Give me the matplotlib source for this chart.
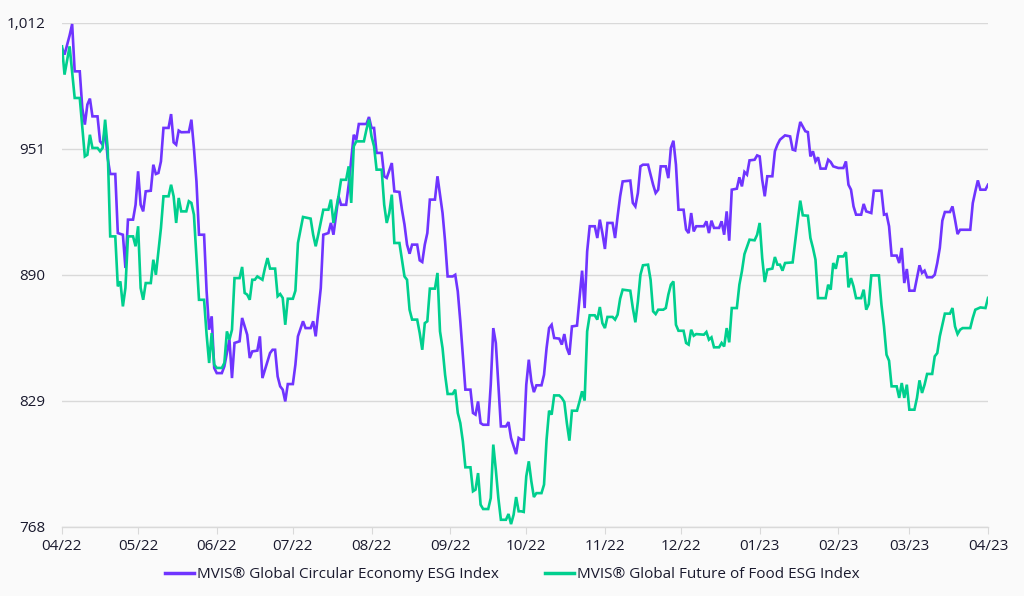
import matplotlib
matplotlib.use("Agg")
import matplotlib.pyplot as plt
import matplotlib.dates as mdates
import matplotlib.ticker as mticker
import pandas as pd

plt.rcParams['font.family'] = ['Open Sans', 'DejaVu Sans']

start_date = "2022-04-01"
series_names = ["MVIS® Global Circular Economy ESG Index",
                "MVIS® Global Future of Food ESG Index"]
y_ticks = [768, 829, 890, 951, 1012]

circ_days = [0, 1, 3, 4, 5, 7, 8, 9, 10, 11, 12, 14, 15, 16, 17, 18, 19, 21, 22, 24,
             25, 26, 28, 29, 30, 31, 32, 33, 35, 36, 37, 38, 39, 40, 42, 43, 44, 45, 46, 47,
             50, 51, 52, 53, 54, 56, 57, 58, 59, 60, 61, 63, 64, 66, 67, 68, 70, 71, 73, 74,
             75, 77, 78, 79, 81, 82, 83, 84, 85, 86, 87, 88, 89, 91, 92, 93, 95, 96, 98, 99,
             100, 102, 103, 105, 106, 107, 109, 110, 112, 113, 115, 116, 117, 120, 121, 122, 123, 124, 126, 127,
             128, 130, 131, 133, 134, 135, 136, 137, 138, 140, 141, 142, 143, 144, 145, 147, 148, 150, 151, 152,
             154, 155, 156, 157, 159, 161, 162, 163, 164, 165, 166, 168, 169, 170, 171, 172, 173, 175, 176, 177,
             179, 180, 181, 182, 183, 184, 185, 186, 187, 189, 190, 191, 192, 193, 194, 196, 197, 198, 199, 200,
             201, 203, 204, 205, 206, 207, 208, 210, 211, 212, 213, 214, 215, 217, 218, 219, 220, 221, 224, 225,
             226, 227, 228, 229, 231, 232, 233, 234, 235, 236, 238, 239, 240, 241, 242, 243, 245, 246, 247, 248,
             249, 250, 253, 254, 255, 256, 257, 259, 260, 261, 262, 263, 264, 266, 267, 268, 269, 270, 271, 273,
             274, 275, 276, 277, 278, 280, 281, 282, 283, 285, 287, 288, 289, 290, 291, 293, 294, 295, 296, 297,
             298, 299, 301, 302, 303, 304, 306, 308, 309, 310, 311, 312, 313, 315, 316, 317, 319, 320, 323, 324,
             325, 326, 327, 329, 330, 331, 332, 333, 334, 336, 337, 338, 339, 340, 341, 343, 344, 345, 346, 347,
             348, 350, 351, 352, 353, 354, 358, 359, 360, 361, 362, 364, 365]
circ_vals = [999.9, 996.7, 1006.0, 1011.5, 988.6, 988.6, 970.8, 962.8, 972.5, 975.4, 966.8, 966.8, 954.7, 953.1, 960.4, 946.6, 938.9, 938.9, 910.3, 909.5,
             893.4, 916.8, 916.8, 924.0, 940.2, 924.0, 920.8, 930.5, 930.8, 943.4, 938.9, 939.4, 945.0, 961.2, 961.2, 967.9, 954.2, 953.1, 959.9, 959.1,
             959.2, 965.2, 951.5, 935.3, 909.5, 909.5, 882.1, 863.5, 870.0, 845.0, 842.5, 842.5, 845.8, 858.7, 840.1, 857.1, 857.9, 869.2, 861.1, 849.8,
             853.0, 853.4, 860.3, 840.1, 848.2, 852.2, 853.8, 853.8, 840.9, 836.1, 834.5, 828.8, 837.2, 837.2, 846.6, 860.3, 867.6, 864.3, 864.3, 867.6,
             860.3, 883.7, 909.5, 910.3, 915.2, 909.5, 928.1, 924.0, 924.0, 933.7, 957.9, 955.5, 963.1, 963.1, 966.5, 961.2, 961.2, 949.1, 949.1, 937.8,
             937.0, 944.2, 930.5, 930.2, 921.6, 914.4, 904.7, 900.3, 904.7, 904.7, 897.1, 896.3, 904.7, 910.3, 926.5, 926.5, 937.8, 920.0, 906.3, 889.3,
             889.3, 890.1, 882.1, 867.6, 834.5, 834.5, 823.2, 822.4, 828.8, 818.3, 817.5, 817.5, 836.9, 864.3, 857.1, 836.9, 816.7, 816.7, 818.8, 811.1,
             803.3, 811.1, 810.3, 810.3, 836.9, 849.0, 838.5, 833.3, 836.6, 836.6, 841.7, 854.6, 864.3, 865.9, 859.5, 859.2, 856.3, 861.4, 854.6, 851.4,
             865.1, 865.5, 878.9, 892.1, 874.0, 901.4, 913.6, 913.6, 907.9, 916.8, 910.3, 902.6, 915.2, 915.2, 907.9, 918.4, 928.1, 935.3, 935.7, 924.9,
             923.2, 929.7, 942.6, 943.4, 943.4, 938.6, 933.7, 929.7, 931.3, 942.6, 942.6, 936.9, 951.5, 955.0, 943.4, 921.6, 921.6, 912.0, 910.3, 920.0,
             911.1, 913.6, 913.6, 916.0, 910.3, 916.3, 912.8, 912.8, 916.0, 909.5, 920.8, 906.6, 931.3, 931.8, 937.3, 932.9, 939.9, 938.6, 945.5, 945.8,
             947.9, 947.4, 936.1, 928.1, 937.8, 937.8, 949.9, 953.1, 955.5, 957.6, 957.1, 950.7, 950.3, 957.9, 964.1, 959.6, 959.2, 947.4, 949.9, 945.0,
             947.0, 941.5, 941.5, 945.8, 944.7, 942.6, 941.8, 941.8, 945.0, 933.7, 931.3, 923.2, 919.2, 919.2, 924.4, 920.8, 920.0, 930.8, 930.8, 919.2,
             919.5, 913.6, 899.4, 899.4, 895.8, 903.1, 886.1, 892.9, 882.4, 882.4, 888.5, 894.7, 891.0, 892.1, 888.9, 888.9, 890.1, 895.8, 903.1, 916.3,
             920.5, 920.5, 923.2, 916.8, 909.8, 911.9, 911.9, 924.8, 930.5, 935.8, 931.3, 931.3, 933.7]

food_days = [0, 1, 3, 5, 7, 9, 10, 11, 12, 14, 15, 16, 17, 18, 19, 21, 22, 23, 24, 25,
             26, 28, 29, 30, 31, 32, 33, 35, 36, 37, 39, 40, 42, 43, 44, 45, 46, 47, 49, 50,
             51, 52, 54, 56, 57, 58, 59, 60, 61, 63, 64, 65, 66, 67, 68, 70, 71, 72, 73, 74,
             75, 76, 77, 79, 80, 81, 82, 84, 85, 86, 87, 88, 89, 91, 92, 93, 95, 98, 99, 100,
             101, 103, 105, 106, 107, 109, 110, 112, 113, 114, 115, 116, 119, 120, 121, 122, 123, 124, 126, 127,
             128, 129, 130, 131, 133, 134, 135, 136, 137, 138, 140, 141, 142, 143, 144, 145, 147, 148, 149, 150,
             151, 152, 154, 155, 156, 157, 158, 159, 161, 162, 163, 164, 165, 166, 168, 169, 170, 171, 172, 173,
             175, 176, 177, 178, 179, 180, 181, 182, 183, 184, 185, 186, 187, 189, 190, 191, 192, 193, 194, 196,
             197, 198, 199, 200, 201, 203, 204, 205, 206, 207, 208, 210, 211, 212, 213, 214, 215, 217, 218, 219,
             220, 221, 224, 225, 226, 227, 228, 229, 231, 232, 233, 234, 235, 237, 238, 239, 240, 241, 242, 243,
             245, 246, 247, 248, 249, 250, 253, 254, 255, 256, 257, 259, 260, 261, 262, 263, 264, 266, 267, 268,
             269, 271, 273, 274, 275, 276, 277, 278, 280, 281, 282, 283, 284, 285, 288, 289, 290, 291, 292, 294,
             295, 296, 297, 298, 301, 302, 303, 304, 305, 306, 308, 309, 310, 311, 312, 313, 315, 316, 317, 318,
             319, 322, 323, 324, 325, 326, 327, 329, 330, 331, 332, 333, 334, 336, 337, 338, 339, 340, 341, 343,
             344, 345, 346, 347, 348, 350, 351, 352, 353, 354, 355, 358, 359, 360, 362, 364, 365]
food_vals = [1000.7, 987.0, 1000.7, 975.7, 975.7, 947.4, 948.2, 957.9, 951.5, 951.5, 949.9, 951.5, 965.2, 951.5, 908.7, 908.7, 884.5, 886.9, 874.8, 883.7,
             908.7, 908.7, 903.9, 913.6, 883.7, 878.0, 886.1, 886.1, 897.4, 890.1, 912.7, 928.1, 928.1, 933.7, 928.1, 915.2, 927.3, 920.8, 920.8, 925.7,
             924.9, 919.2, 878.0, 878.0, 861.1, 847.4, 861.9, 846.6, 845.0, 845.0, 847.4, 862.7, 858.7, 863.5, 888.5, 888.5, 893.9, 881.3, 880.5, 878.0,
             887.7, 887.7, 889.3, 887.7, 893.4, 898.2, 893.1, 893.1, 879.7, 880.8, 878.9, 865.9, 878.5, 878.5, 882.4, 905.5, 918.1, 917.3, 909.5, 903.9,
             909.5, 921.6, 921.6, 926.5, 915.2, 928.1, 936.1, 936.1, 942.6, 924.9, 952.3, 954.7, 954.7, 960.4, 965.2, 957.1, 952.3, 941.0, 941.0, 924.0,
             915.2, 920.0, 928.9, 905.5, 905.5, 897.4, 889.3, 887.7, 873.2, 868.4, 868.4, 861.9, 853.8, 866.7, 867.6, 883.4, 883.4, 891.0, 862.7, 854.6,
             841.7, 832.4, 832.4, 834.5, 823.2, 818.3, 809.5, 796.9, 796.9, 785.3, 786.1, 794.1, 778.8, 776.7, 776.7, 782.0, 807.9, 795.7, 782.0, 771.5,
             771.5, 774.3, 769.4, 773.9, 782.5, 775.6, 775.6, 775.3, 792.5, 799.8, 790.1, 782.5, 784.4, 784.4, 788.5, 810.3, 824.3, 822.4, 831.7, 831.7,
             830.5, 828.5, 818.3, 809.8, 824.3, 824.3, 828.8, 833.7, 829.2, 862.7, 870.5, 870.5, 868.4, 874.5, 866.7, 864.3, 869.7, 869.7, 868.4, 870.8,
             878.5, 882.9, 882.4, 874.0, 867.1, 877.2, 890.1, 894.7, 895.0, 887.7, 872.4, 871.1, 873.2, 873.2, 874.0, 880.5, 885.3, 886.9, 865.9, 863.0,
             863.0, 857.1, 856.3, 863.5, 860.6, 861.4, 861.1, 862.4, 858.7, 859.8, 855.0, 855.0, 857.1, 855.4, 864.3, 857.4, 874.0, 874.0, 885.3, 891.8,
             900.1, 907.1, 906.8, 909.5, 915.2, 898.2, 886.6, 892.6, 893.1, 898.7, 895.0, 895.0, 892.1, 895.8, 896.1, 906.3, 916.3, 926.0, 918.9, 918.7,
             907.9, 903.1, 897.4, 878.8, 878.8, 885.3, 882.9, 895.8, 893.0, 899.0, 899.0, 901.1, 884.0, 888.5, 884.5, 878.8, 878.8, 882.9, 873.2, 875.9,
             889.8, 889.8, 875.6, 865.1, 851.4, 848.5, 836.1, 836.1, 830.5, 837.7, 830.5, 836.9, 824.8, 824.8, 830.5, 839.0, 832.9, 836.9, 842.1, 842.1,
             850.6, 852.2, 860.3, 865.9, 871.3, 871.3, 874.0, 865.1, 861.4, 863.5, 864.3, 864.3, 869.2, 873.2, 874.3, 874.0, 878.9]

colors = ["#6F34FF", "#00CF8E"]
bg = "#FAFAFA"

t0 = pd.Timestamp(start_date)
circ_dates = t0 + pd.to_timedelta(circ_days, unit="D")
food_dates = t0 + pd.to_timedelta(food_days, unit="D")

fig = plt.figure(figsize=(10.24, 5.96), dpi=100, facecolor=bg)
ax = fig.add_axes([62/1024, 1 - 527/596, (988-62)/1024, (527-23)/596], facecolor=bg)

ax.plot(circ_dates, circ_vals, color=colors[0], lw=1.9, label=series_names[0], solid_joinstyle="miter")
ax.plot(food_dates, food_vals, color=colors[1], lw=1.9, label=series_names[1], solid_joinstyle="miter")

ax.set_ylim(y_ticks[0], y_ticks[-1])
ax.set_xlim(t0, pd.Timestamp("2023-04-01"))
ax.set_yticks(y_ticks)
ax.yaxis.set_major_formatter(mticker.FuncFormatter(lambda v, p: f"{v:,.0f}"))
ax.xaxis.set_major_locator(mdates.MonthLocator())
ax.xaxis.set_major_formatter(mdates.DateFormatter("%m/%y"))

ax.grid(axis="y", color="#D9D9D9", lw=1.0)
ax.set_axisbelow(True)
for s in ["top", "right", "left"]:
    ax.spines[s].set_visible(False)
ax.spines["bottom"].set_color("#D9D9D9")
ax.spines["bottom"].set_linewidth(1.0)
ax.tick_params(axis="y", length=0, pad=12, labelsize=11, labelcolor="#1A1A2E")
ax.tick_params(axis="x", length=5, color="#D9D9D9", pad=4, labelsize=11, labelcolor="#1A1A2E")

leg = fig.legend(loc="lower center", bbox_to_anchor=(0.5, 0.0), ncol=2, frameon=False,
                 fontsize=11, handlelength=1.9, columnspacing=3.0, handletextpad=0.2,
                 labelcolor="#1A1A2E")
for line in leg.get_lines():
    line.set_linewidth(2.5)

fig.savefig("out.png", dpi=100, facecolor=bg)
